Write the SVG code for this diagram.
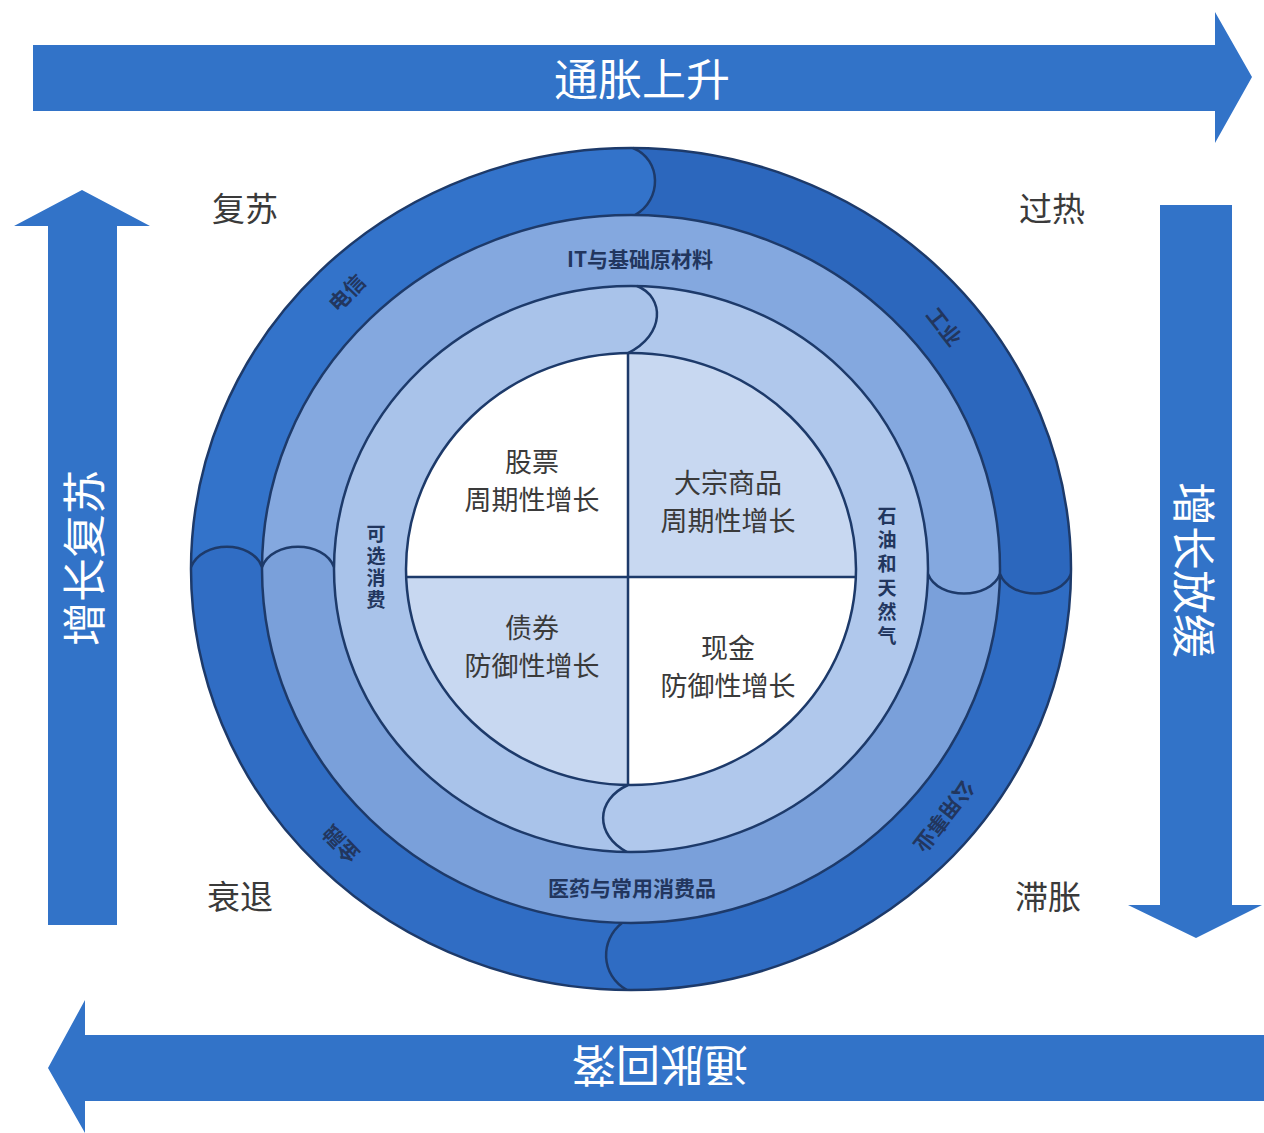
<svg xmlns="http://www.w3.org/2000/svg" width="1264" height="1133" viewBox="0 0 1264 1133">
<style>
.arrow{fill:#3273c8}
.atxt{fill:#ffffff;font-family:"Noto Sans CJK SC",sans-serif;font-size:44px;text-anchor:middle;dominant-baseline:central}
.ln{fill:none;stroke:#1d3a6a;stroke-width:2.5}
.corner{fill:#3a3a3a;font-family:"Noto Sans CJK SC",sans-serif;font-size:33px;text-anchor:middle;dominant-baseline:central}
.quad{fill:#3a3a3a;font-family:"Noto Sans CJK SC",sans-serif;font-size:27px;text-anchor:middle;dominant-baseline:central}
.ring{fill:#22365e;font-family:"Noto Sans CJK SC",sans-serif;font-size:21px;font-weight:bold;text-anchor:middle;dominant-baseline:central}
.rv{font-size:19px;writing-mode:vertical-rl;text-orientation:upright}
</style>
<rect width="1264" height="1133" fill="#ffffff"/>

<g id="arrow-top">
<polygon class="arrow" points="33,45 1215,45 1215,12 1252,77 1215,143 1215,111 33,111"/>
<text class="atxt" x="642" y="77">通胀上升</text>
</g>
<g id="arrow-bottom">
<polygon class="arrow" points="1264,1035 85,1035 85,1000 48,1068 85,1133 85,1101 1264,1101"/>
<text class="atxt" transform="translate(660,1068) rotate(180)">通胀回落</text>
</g>
<g id="arrow-left">
<polygon class="arrow" points="48,925 48,226 14,226 82,190 150,226 117,226 117,925"/>
<text class="atxt" transform="translate(82,558) rotate(-90)">增长复苏</text>
</g>
<g id="arrow-right">
<polygon class="arrow" points="1160,205 1232,205 1232,905 1262,905 1196,938 1128,905 1160,905"/>
<text class="atxt" transform="translate(1196,570) rotate(90)">增长放缓</text>
</g>

<g id="corner-labels">
<text class="corner" x="245" y="207">复苏</text>
<text class="corner" x="1052" y="207">过热</text>
<text class="corner" x="240" y="895">衰退</text>
<text class="corner" x="1048" y="895">滞胀</text>
</g>

<g id="outer-ring">
<ellipse cx="631" cy="569" rx="440" ry="421" fill="#3373ca"/>
<path fill="#2c67bd" d="M633 148 A440 421 0 0 1 1071 574 C1060 600 1010 600 1000 574 A369 354 0 0 0 635 215 C662 200 662 160 633 148 Z"/>
<path fill="#2f6cc3" d="M1071 574 A440 421 0 0 1 627 990 C600 975 600 940 622 923 A369 354 0 0 0 1000 574 C1010 600 1060 600 1071 574 Z"/>
<path fill="#306dc4" d="M627 990 A440 421 0 0 1 191 567 C202 540 252 540 262 567 A369 354 0 0 0 622 923 C600 940 600 975 627 990 Z"/>
<ellipse class="ln" cx="631" cy="569" rx="440" ry="421"/>
<path class="ln" d="M633 148 C662 160 662 200 635 215"/>
<path class="ln" d="M1000 574 C1010 600 1060 600 1071 574"/>
<path class="ln" d="M622 923 C600 940 600 975 627 990"/>
<path class="ln" d="M191 567 C202 540 252 540 262 567"/>
<text class="ring" transform="translate(346,292) rotate(-46)">电信</text>
<text class="ring" transform="translate(945,326) rotate(52)">工业</text>
<text class="ring" transform="translate(945,817) rotate(128)">公用事业</text>
<text class="ring" transform="translate(340,845) rotate(-134)">金融</text>
</g>

<g id="middle-ring">
<ellipse cx="631" cy="569" rx="369" ry="354" fill="#84a8df"/>
<path fill="#7aa0da" d="M262 567 A369 354 0 0 0 631 923 A369 354 0 0 0 1000 574 C990 600 938 600 928 574 A297 283 0 0 1 631 852 A297 283 0 0 1 334 567 C324 540 272 540 262 567 Z"/>
<ellipse class="ln" cx="631" cy="569" rx="369" ry="354"/>
<path class="ln" d="M928 574 C938 600 990 600 1000 574"/>
<path class="ln" d="M262 567 C272 540 324 540 334 567"/>
<text class="ring" x="640" y="258">IT与基础原材料</text>
<text class="ring" x="632" y="887">医药与常用消费品</text>
</g>

<g id="inner-ring">
<ellipse cx="631" cy="569" rx="297" ry="283" fill="#a9c3ea"/>
<path fill="#b0c8ec" d="M637 286 A297 283 0 0 1 928 569 A297 283 0 0 1 627 852 C595 835 595 800 628 785 A225 216 0 0 0 856 569 A225 216 0 0 0 628 353 C665 335 665 297 637 286 Z"/>
<ellipse class="ln" cx="631" cy="569" rx="297" ry="283"/>
<path class="ln" d="M637 286 C665 297 665 335 628 353"/>
<path class="ln" d="M628 785 C595 800 595 835 627 852"/>
<text class="ring rv" x="376" y="568" letter-spacing="3">可选消费</text>
<text class="ring rv" x="887" y="578" letter-spacing="5">石油和天然气</text>
</g>

<g id="core">
<ellipse cx="631" cy="569" rx="225" ry="216" fill="#ffffff"/>
<path fill="#c8d8f1" d="M628 577 L628 353 A225 216 0 0 1 856 577 Z"/>
<path fill="#c8d8f1" d="M628 577 L628 785 A225 216 0 0 1 406 577 Z"/>
<ellipse class="ln" cx="631" cy="569" rx="225" ry="216"/>
<line class="ln" x1="628" y1="353" x2="628" y2="785" stroke-width="2"/>
<line class="ln" x1="406" y1="577" x2="856" y2="577" stroke-width="2"/>
</g>
<g id="q-stock"><text class="quad" x="532" y="460">股票</text><text class="quad" x="532" y="498">周期性增长</text></g>
<g id="q-commodity"><text class="quad" x="728" y="481">大宗商品</text><text class="quad" x="728" y="519">周期性增长</text></g>
<g id="q-bond"><text class="quad" x="532" y="626">债券</text><text class="quad" x="532" y="664">防御性增长</text></g>
<g id="q-cash"><text class="quad" x="728" y="646">现金</text><text class="quad" x="728" y="684">防御性增长</text></g>
</svg>
